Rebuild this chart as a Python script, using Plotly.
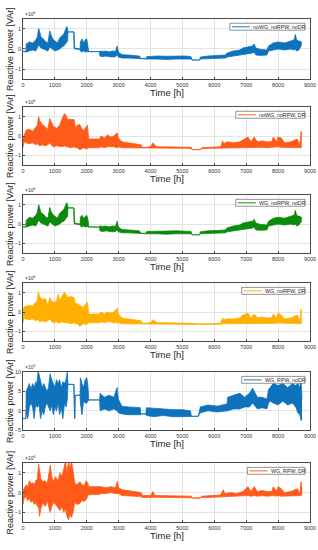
import plotly.graph_objects as go

# ---------------- data (values in the displayed units: x10^6 VAr, panel 5 in x10^5 VAr) ----------------
NAMES = ["noWG, noRPW, noDR", "noWG, noRPW, DR", "WG, noRPW, noDR",
         "WG, noRPW, DR", "WG, RPW, noDR", "WG, RPW, DR"]
EXPONENTS = ["6", "6", "6", "6", "5", "6"]
X_TICKS = [0, 1000, 2000, 3000, 4000, 5000, 6000, 7000, 8000, 9000]
Y_TICKS_A = [-1, 0, 1]
Y_TICKS_B = [-5, 0, 5, 10]

# series 1: noWG, noRPW, noDR (upper / lower envelope of the hourly trace)
S1_T = [0, 90, 100, 200, 300, 400, 450, 490, 520, 560,
        640, 720, 780, 840, 880, 930, 1000, 1080, 1150, 1220,
        1280, 1330, 1370, 1400, 1410, 1590, 1600, 1620, 1790, 1800,
        1850, 1900, 1950, 2000, 2040, 2060, 2400, 2410, 2500, 2600,
        2700, 2800, 2900, 2950, 2990, 3100, 3300, 3500, 3650, 3700,
        3860, 3880, 4200, 4500, 4800, 5100, 5270, 5300, 5540, 5560,
        5800, 6100, 6350, 6400, 6600, 6800, 6900, 7050, 7200, 7250,
        7300, 7450, 7650, 7700, 7850, 8000, 8200, 8400, 8500, 8540,
        8580, 8650, 8740]
S1_HI = [-0.12, -0.12, 0.25, 0.35, 0.30, 0.45, 0.60, 1.02, 0.90, 0.60,
         0.50, 0.35, 0.30, 0.90, 0.70, 0.50, 0.40, 0.30, 0.55, 0.65,
         0.75, 0.95, 1.12, 1.00, 0.85, 0.85, 0.85, 0.05, 0.00, 0.35,
         0.50, 0.30, 0.45, 0.50, 0.20, -0.13, -0.13, -0.10, -0.12, -0.10,
         -0.15, -0.10, -0.12, 0.15, -0.15, -0.28, -0.30, -0.32, -0.35, -0.47,
         -0.47, -0.38, -0.35, -0.36, -0.35, -0.35, -0.38, -0.55, -0.55, -0.40,
         -0.35, -0.33, -0.30, -0.20, -0.10, -0.05, 0.05, 0.10, 0.15, 0.25,
         0.05, -0.02, -0.05, 0.15, 0.30, 0.35, 0.30, 0.40, 0.45, 0.72,
         0.45, 0.40, 0.35]
S1_LO = [-0.12, -0.12, -0.15, -0.10, -0.05, -0.10, 0.10, 0.20, 0.15, 0.05,
         0.00, -0.05, -0.10, 0.10, 0.05, -0.05, -0.10, -0.05, 0.00, 0.10,
         0.15, 0.25, 0.35, 0.40, 0.85, 0.85, 0.05, 0.00, -0.02, -0.10,
         -0.15, -0.10, -0.15, -0.12, -0.15, -0.13, -0.13, -0.35, -0.38, -0.35,
         -0.38, -0.40, -0.38, -0.30, -0.40, -0.45, -0.45, -0.47, -0.48, -0.48,
         -0.48, -0.50, -0.50, -0.52, -0.50, -0.50, -0.50, -0.55, -0.55, -0.50,
         -0.48, -0.45, -0.45, -0.40, -0.35, -0.30, -0.28, -0.25, -0.20, -0.15,
         -0.30, -0.32, -0.30, -0.10, -0.05, 0.00, -0.05, 0.00, -0.05, 0.00,
         -0.10, -0.05, 0.20]

# series 2: noWG, noRPW, DR
S2_T = [0, 30, 100, 200, 300, 400, 450, 490, 520, 600,
        700, 780, 840, 880, 950, 1050, 1150, 1230, 1300, 1350,
        1400, 1500, 1600, 1650, 1700, 1780, 1850, 1900, 1980, 2020,
        2060, 2200, 2400, 2450, 2550, 2650, 2750, 2850, 2950, 2990,
        3100, 3300, 3500, 3700, 3750, 4000, 4080, 4120, 4200, 4500,
        4800, 5100, 5280, 5300, 5560, 5600, 5900, 6200, 6260, 6300,
        6400, 6600, 6800, 6900, 7050, 7150, 7250, 7350, 7500, 7650,
        7800, 7850, 7950, 8000, 8100, 8200, 8400, 8600, 8680, 8720,
        8740]
S2_HI = [-0.10, 0.00, 0.30, 0.35, 0.25, 0.45, 0.55, 1.00, 0.80, 0.60,
         0.45, 0.35, 0.90, 0.75, 0.50, 0.40, 0.55, 0.90, 1.15, 1.05,
         0.85, 0.85, 0.85, 0.40, 0.55, 0.60, 0.35, 0.30, 0.50, 0.55,
         -0.15, -0.15, -0.15, 0.00, -0.10, 0.05, -0.05, 0.00, 0.17, -0.10,
         -0.30, -0.35, -0.40, -0.45, -0.60, -0.55, -0.35, -0.45, -0.55, -0.55,
         -0.55, -0.57, -0.58, -0.70, -0.70, -0.60, -0.57, -0.55, -0.25, -0.40,
         -0.30, -0.35, -0.30, -0.20, -0.05, -0.30, -0.05, -0.30, -0.25, -0.30,
         -0.30, -0.05, -0.30, -0.05, -0.10, -0.35, -0.30, -0.15, -0.45, 0.25,
         0.10]
S2_LO = [-0.60, -0.30, -0.35, -0.40, -0.35, -0.45, -0.40, -0.45, -0.50, -0.45,
         -0.50, -0.45, -0.35, -0.45, -0.55, -0.50, -0.55, -0.55, -0.50, -0.55,
         -0.55, -0.60, -0.55, -0.60, -0.60, -0.70, -0.65, -0.60, -0.65, -0.65,
         -0.60, -0.60, -0.60, -0.55, -0.60, -0.55, -0.55, -0.55, -0.60, -0.55,
         -0.60, -0.60, -0.62, -0.62, -0.62, -0.62, -0.60, -0.62, -0.62, -0.63,
         -0.63, -0.63, -0.64, -0.70, -0.70, -0.65, -0.63, -0.62, -0.60, -0.60,
         -0.60, -0.60, -0.60, -0.58, -0.58, -0.60, -0.58, -0.60, -0.58, -0.60,
         -0.58, -0.58, -0.58, -0.55, -0.58, -0.58, -0.58, -0.60, -0.60, -0.60,
         -0.55]

# series 3: WG, noRPW, noDR
S3_T = [0, 90, 100, 200, 300, 400, 450, 490, 520, 560,
        640, 720, 780, 840, 880, 930, 1000, 1080, 1150, 1220,
        1280, 1330, 1370, 1400, 1410, 1590, 1600, 1620, 1790, 1800,
        1850, 1900, 1950, 2000, 2040, 2060, 2400, 2410, 2500, 2600,
        2700, 2800, 2900, 2950, 2990, 3100, 3300, 3500, 3650, 3700,
        3860, 3880, 4200, 4500, 4800, 5100, 5270, 5300, 5540, 5560,
        5800, 6100, 6350, 6400, 6600, 6800, 6900, 7050, 7200, 7250,
        7300, 7450, 7650, 7700, 7850, 8000, 8200, 8400, 8500, 8540,
        8580, 8650, 8740]
S3_HI = [-0.15, -0.15, 0.20, 0.35, 0.30, 0.45, 0.60, 1.00, 0.85, 0.60,
         0.50, 0.35, 0.30, 0.85, 0.65, 0.50, 0.40, 0.30, 0.55, 0.65,
         0.75, 0.95, 1.10, 1.00, 0.83, 0.83, 0.83, 0.05, 0.00, 0.35,
         0.45, 0.30, 0.40, 0.45, 0.20, -0.15, -0.15, -0.10, -0.12, -0.10,
         -0.15, -0.10, -0.12, 0.15, -0.15, -0.28, -0.30, -0.32, -0.35, -0.47,
         -0.47, -0.38, -0.35, -0.36, -0.35, -0.35, -0.38, -0.55, -0.55, -0.40,
         -0.35, -0.33, -0.30, -0.20, -0.10, -0.05, 0.05, 0.10, 0.15, 0.25,
         0.05, -0.02, -0.05, 0.15, 0.30, 0.35, 0.30, 0.40, 0.45, 0.70,
         0.45, 0.40, 0.35]
S3_LO = [-0.15, -0.15, -0.15, -0.10, -0.05, -0.10, 0.10, 0.20, 0.15, 0.05,
         0.00, -0.05, -0.10, 0.10, 0.05, -0.05, -0.10, -0.05, 0.00, 0.10,
         0.15, 0.25, 0.35, 0.40, 0.83, 0.83, 0.05, 0.00, -0.02, -0.10,
         -0.15, -0.10, -0.15, -0.12, -0.15, -0.15, -0.15, -0.35, -0.38, -0.35,
         -0.38, -0.40, -0.38, -0.30, -0.40, -0.45, -0.45, -0.47, -0.48, -0.48,
         -0.48, -0.50, -0.50, -0.52, -0.50, -0.50, -0.50, -0.55, -0.55, -0.50,
         -0.48, -0.45, -0.45, -0.40, -0.35, -0.30, -0.28, -0.25, -0.20, -0.15,
         -0.30, -0.32, -0.30, -0.10, -0.05, 0.00, -0.05, 0.00, -0.05, 0.00,
         -0.10, -0.05, 0.15]

# series 4: WG, noRPW, DR
S4_T = [0, 30, 100, 200, 300, 400, 450, 480, 520, 600,
        700, 780, 840, 880, 950, 1050, 1100, 1150, 1230, 1300,
        1350, 1400, 1500, 1600, 1650, 1700, 1780, 1850, 1900, 1980,
        2020, 2060, 2200, 2400, 2450, 2550, 2650, 2750, 2850, 2950,
        2990, 3100, 3300, 3500, 3700, 3750, 4000, 4080, 4120, 4200,
        4500, 4800, 5100, 5280, 5500, 5560, 5600, 5900, 6200, 6260,
        6300, 6400, 6600, 6800, 6900, 7050, 7150, 7250, 7350, 7500,
        7650, 7800, 7850, 7950, 8000, 8100, 8200, 8400, 8600, 8680,
        8720, 8740]
S4_HI = [0.00, 0.25, 0.30, 0.35, 0.30, 0.50, 0.60, 1.05, 0.80, 0.65,
         0.70, 0.35, 0.75, 0.60, 0.50, 0.55, 0.93, 0.60, 0.85, 1.03,
         0.90, 0.75, 0.80, 0.75, 0.40, 0.45, 0.35, 0.30, 0.25, 0.45,
         0.50, -0.10, -0.10, -0.10, 0.00, -0.10, 0.00, -0.05, 0.00, 0.20,
         -0.10, -0.30, -0.35, -0.40, -0.45, -0.58, -0.55, -0.39, -0.45, -0.55,
         -0.55, -0.55, -0.57, -0.58, -0.60, -0.62, -0.60, -0.60, -0.57, -0.30,
         -0.40, -0.35, -0.35, -0.30, -0.15, -0.05, -0.30, -0.10, -0.30, -0.25,
         -0.30, -0.30, -0.10, -0.30, -0.05, -0.15, -0.35, -0.30, -0.15, -0.45,
         0.15, 0.00]
S4_LO = [-0.55, -0.30, -0.35, -0.40, -0.35, -0.45, -0.40, -0.45, -0.50, -0.45,
         -0.50, -0.45, -0.35, -0.45, -0.55, -0.50, -0.55, -0.55, -0.50, -0.55,
         -0.55, -0.55, -0.60, -0.55, -0.60, -0.60, -0.73, -0.65, -0.60, -0.65,
         -0.60, -0.55, -0.55, -0.55, -0.50, -0.55, -0.50, -0.50, -0.55, -0.55,
         -0.55, -0.60, -0.60, -0.62, -0.62, -0.62, -0.62, -0.60, -0.62, -0.62,
         -0.63, -0.63, -0.63, -0.64, -0.64, -0.66, -0.65, -0.65, -0.63, -0.60,
         -0.60, -0.60, -0.60, -0.60, -0.58, -0.58, -0.60, -0.58, -0.60, -0.58,
         -0.60, -0.58, -0.58, -0.58, -0.55, -0.58, -0.58, -0.58, -0.60, -0.60,
         -0.60, -0.55]

# series 5: WG, RPW, noDR (x10^5)
S5_T = [0, 90, 100, 150, 200, 250, 300, 350, 400, 430,
        470, 500, 550, 600, 650, 700, 750, 800, 850, 900,
        950, 1000, 1050, 1100, 1150, 1200, 1250, 1300, 1350, 1390,
        1410, 1590, 1600, 1620, 1640, 1790, 1800, 1850, 1900, 1950,
        2000, 2040, 2060, 2400, 2420, 2550, 2700, 2850, 2950, 2990,
        3100, 3300, 3500, 3680, 3700, 3850, 3870, 4100, 4400, 4700,
        5000, 5250, 5280, 5500, 5560, 5800, 6100, 6400, 6420, 6600,
        6800, 6950, 7100, 7200, 7250, 7350, 7500, 7650, 7700, 7750,
        7850, 8000, 8150, 8300, 8450, 8550, 8620, 8680, 8720, 8750]
S5_HI = [-2.0, -2.0, 5.0, 6.0, 7.0, 5.5, 7.0, 6.0, 7.5, 6.5,
         10.0, 9.5, 8.0, 6.0, 7.0, 6.0, 5.0, 6.0, 9.5, 8.0,
         7.0, 6.0, 8.0, 7.0, 8.0, 6.0, 7.5, 7.0, 8.0, 10.0,
         6.8, 6.8, 6.8, -2.0, 4.0, 4.0, 8.5, 7.0, 6.0, 8.0,
         8.5, 6.0, 2.8, 2.8, 4.5, 3.5, 4.0, 3.5, 6.0, 3.0,
         1.2, 1.0, 0.8, 0.8, -0.8, -0.8, 0.8, 0.6, 0.5, 0.3,
         0.3, 0.0, -1.4, -1.4, 1.0, 1.5, 1.2, 1.8, 3.5, 4.0,
         4.5, 3.5, 4.5, 5.8, 5.0, 3.5, 3.5, 3.0, 5.5, 6.0,
         7.0, 6.5, 7.0, 6.0, 7.0, 6.5, 7.0, 6.0, 8.0, 3.0]
S5_LO = [-2.0, -2.0, 0.0, -2.0, 1.0, 2.0, 1.0, -2.0, 2.0, 1.0,
         1.0, 2.0, -2.0, 0.0, -1.0, 1.0, 2.0, 1.0, 0.0, 1.5,
         -1.0, 1.0, 0.0, 2.0, -1.0, 1.0, -2.0, 2.0, 1.0, 3.0,
         6.8, 6.8, -2.0, -2.0, 4.0, 4.0, 2.0, -1.0, 2.5, 2.0,
         2.0, 2.5, 2.8, 2.8, 0.0, 0.5, 0.0, 0.5, 0.0, -0.5,
         -0.8, -1.0, -1.0, -1.0, -0.8, -0.8, -1.2, -1.5, -1.2, -1.5,
         -1.5, -1.5, -1.4, -1.4, -0.5, 0.0, -0.3, 0.0, 0.0, 0.5,
         0.5, 1.0, 1.0, 2.0, 1.5, 0.5, 0.8, 0.5, 2.0, 2.5,
         2.0, 1.5, 2.5, 1.5, 2.0, 1.0, -0.5, -1.0, -2.5, -2.0]

# series 6: WG, RPW, DR
S6_T = [0, 30, 100, 150, 200, 250, 300, 350, 400, 450,
        490, 520, 560, 620, 700, 760, 820, 860, 900, 960,
        1020, 1100, 1160, 1220, 1280, 1330, 1380, 1430, 1470, 1520,
        1570, 1620, 1700, 1780, 1850, 1920, 1980, 2040, 2060, 2400,
        2450, 2600, 2750, 2900, 2960, 3000, 3100, 3300, 3500, 3700,
        3750, 4000, 4080, 4120, 4200, 4500, 4800, 5100, 5280, 5300,
        5560, 5600, 5900, 6200, 6280, 6330, 6500, 6700, 6900, 7050,
        7150, 7250, 7350, 7500, 7650, 7800, 7850, 7950, 8000, 8100,
        8200, 8400, 8600, 8680, 8720, 8750]
S6_HI = [0.00, 0.20, 0.40, 0.30, 0.60, 0.45, 0.50, 0.40, 0.60, 0.70,
         1.45, 1.00, 0.70, 0.55, 0.60, 0.45, 1.00, 1.40, 0.80, 0.55,
         0.80, 0.60, 1.00, 0.80, 1.20, 1.60, 1.00, 1.60, 1.20, 1.60,
         1.10, 0.50, 0.40, 0.55, 0.40, 0.35, 0.60, 0.45, 0.30, 0.30,
         0.30, 0.25, 0.30, 0.25, 0.58, 0.25, 0.15, 0.10, 0.05, 0.00,
         -0.15, -0.15, 0.05, -0.12, -0.15, -0.15, -0.16, -0.17, -0.18, -0.28,
         -0.28, -0.18, -0.15, -0.12, 0.15, -0.05, 0.00, -0.05, 0.05, 0.30,
         0.05, 0.30, 0.05, 0.10, 0.05, 0.05, 0.30, 0.05, 0.30, 0.20,
         0.00, 0.05, 0.20, -0.05, 0.55, 0.10]
S6_LO = [-0.60, -0.30, -0.20, -0.40, -0.30, -0.50, -0.40, -0.60, -0.50, -0.70,
         -0.70, -1.20, -0.80, -0.50, -0.70, -0.40, -0.80, -1.00, -0.70, -0.50,
         -0.60, -0.80, -0.90, -0.70, -1.00, -0.80, -1.20, -1.37, -1.10, -1.25,
         -1.00, -0.50, -0.60, -0.55, -0.40, -0.45, -0.35, -0.15, -0.10, -0.10,
         -0.05, -0.05, 0.00, -0.05, -0.05, -0.05, -0.15, -0.15, -0.18, -0.20,
         -0.25, -0.25, -0.22, -0.24, -0.24, -0.24, -0.24, -0.25, -0.26, -0.28,
         -0.28, -0.25, -0.24, -0.22, -0.20, -0.22, -0.20, -0.20, -0.18, -0.15,
         -0.18, -0.15, -0.18, -0.15, -0.18, -0.15, -0.15, -0.18, -0.15, -0.18,
         -0.18, -0.15, -0.15, -0.15, -0.15, -0.10]

SERIES = [(S1_T, S1_HI, S1_LO), (S2_T, S2_HI, S2_LO), (S3_T, S3_HI, S3_LO),
          (S4_T, S4_HI, S4_LO), (S5_T, S5_HI, S5_LO), (S6_T, S6_HI, S6_LO)]

# ---------------- styling / layout ----------------
COLORS = ["#0f72bd", "#ff5a1a", "#0b8a0b", "#ffb000", "#0f72bd", "#ff5a1a"]
Y_RANGES = [[-1.5, 1.5]] * 4 + [[-5, 10]] + [[-1.5, 1.5]]
W, H = 318, 550
ML, MR = 23, 8
TOPS = [16, 105, 194, 283, 373, 465]
BOTS = [77, 164, 253, 342, 432, 525]
FONT = "Liberation Sans, Arial, sans-serif"
PW = W - ML - MR


def px_x(p):
    return (p - ML) / PW


def px_y(p):
    return (H - p) / H


fig = go.Figure()
annotations = []
shapes = []
layout = dict(width=W, height=H, margin=dict(l=ML, r=MR, t=0, b=0),
              paper_bgcolor="white", plot_bgcolor="white",
              font=dict(family=FONT, color="#262626"), showlegend=False)

for i, ((t, hi, lo), name, col) in enumerate(zip(SERIES, NAMES, COLORS)):
    k = i + 1
    xa = "x" if k == 1 else f"x{k}"
    ya = "y" if k == 1 else f"y{k}"
    fig.add_trace(go.Scatter(x=t, y=hi, mode="lines", line=dict(color=col, width=0.8),
                             name=name, xaxis=xa, yaxis=ya, hoverinfo="skip"))
    fig.add_trace(go.Scatter(x=t, y=lo, mode="lines", line=dict(color=col, width=0.8),
                             fill="tonexty", fillcolor=col, name=name,
                             xaxis=xa, yaxis=ya, hoverinfo="skip"))
    y0 = px_y(BOTS[i])
    y1 = px_y(TOPS[i])
    yt = Y_TICKS_B if k == 5 else Y_TICKS_A
    axis_style = dict(showgrid=True, gridcolor="#e3e3e3", gridwidth=0.6, zeroline=False,
                      showline=True, mirror=True, linecolor="#4a4a4a", linewidth=0.7,
                      ticks="inside", ticklen=2, tickcolor="#4a4a4a",
                      tickfont=dict(size=5.5, color="#333"))
    layout["xaxis" if k == 1 else f"xaxis{k}"] = dict(
        domain=[0, 1], anchor=ya, range=[0, 9000], tickvals=X_TICKS, **axis_style)
    layout["yaxis" if k == 1 else f"yaxis{k}"] = dict(
        domain=[y0, y1], anchor=xa, range=Y_RANGES[i], tickvals=yt, **axis_style)

    # legend box (top right, inside the axes)
    right = 305
    left = right - (25 + len(name) * 2.95)
    ltop, lbot = TOPS[i] + 4.5, TOPS[i] + 11.5
    shapes.append(dict(type="rect", xref="paper", yref="paper",
                       x0=px_x(left), x1=px_x(right), y0=px_y(lbot), y1=px_y(ltop),
                       fillcolor="white", line=dict(color="#4a4a4a", width=0.6), layer="above"))
    ym = px_y((ltop + lbot) / 2)
    shapes.append(dict(type="line", xref="paper", yref="paper",
                       x0=px_x(left + 2), x1=px_x(left + 20), y0=ym, y1=ym,
                       line=dict(color=col, width=1.3), opacity=0.75, layer="above"))
    annotations.append(dict(text=name, x=px_x(left + 21.5), y=ym, xref="paper", yref="paper",
                            xanchor="left", yanchor="middle", showarrow=False,
                            font=dict(size=5.3, color="#262626")))

    annotations.append(dict(text="\u00d710<sup>" + EXPONENTS[i] + "</sup>", x=0, y=y1,
                            xref="paper", yref="paper", xanchor="left", yanchor="bottom",
                            showarrow=False, font=dict(size=5, color="#333")))
    annotations.append(dict(text="Reactive power [VAr]", x=px_x(10), y=(y0 + y1) / 2,
                            xref="paper", yref="paper", xanchor="center", yanchor="middle",
                            textangle=-90, showarrow=False, font=dict(size=9, color="#262626")))
    annotations.append(dict(text="Time [h]", x=0.5, y=px_y(BOTS[i] + 13),
                            xref="paper", yref="paper", xanchor="center", yanchor="middle",
                            showarrow=False, font=dict(size=9.5, color="#262626")))

layout["annotations"] = annotations
layout["shapes"] = shapes
fig.update_layout(**layout)
fig.write_html("out.html", config={"displayModeBar": False},
               post_script="document.body.style.margin='0';")
